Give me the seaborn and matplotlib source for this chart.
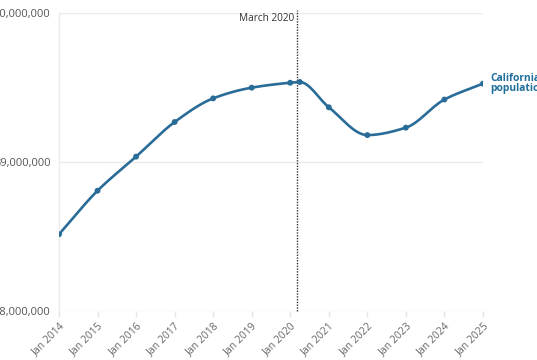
import numpy as np
import pandas as pd
import matplotlib
matplotlib.use("Agg")
import matplotlib.pyplot as plt
import matplotlib.dates as mdates
import seaborn as sns

# Data (population estimates)
dates = ["2014-01-01", "2015-01-01", "2016-01-01", "2017-01-01", "2018-01-01",
         "2019-01-01", "2020-01-01", "2020-04-01", "2021-01-01", "2022-01-01",
         "2023-01-01", "2024-01-01", "2025-01-01"]
population = [38514000, 38807000, 39036000, 39269000, 39428000,
              39500000, 39533000, 39538000, 39368000, 39181000,
              39231000, 39420000, 39527000]
tick_years = list(range(2014, 2026))
tick_labels = ["Jan %d" % y for y in tick_years]
event_date = "2020-03-01"
event_label = "March 2020"
series_label = "California\npopulation"

LINE = "#2a6c98"

df = pd.DataFrame({"date": pd.to_datetime(dates), "pop": population})


def monotone_curve(x, y, n=30):
    # monotone cubic (Fritsch-Carlson), just for drawing a smooth line
    x = np.asarray(x, float)
    y = np.asarray(y, float)
    h = np.diff(x)
    s = np.diff(y) / h
    m = np.zeros_like(y)
    m[0], m[-1] = s[0], s[-1]
    for i in range(1, len(y) - 1):
        if s[i - 1] * s[i] <= 0:
            m[i] = 0
        else:
            m[i] = (h[i - 1] + h[i]) * 3 / ((2 * h[i] + h[i - 1]) / s[i - 1] + (h[i] + 2 * h[i - 1]) / s[i])
    xs, ys = [], []
    for i in range(len(h)):
        t = np.linspace(0, 1, n)
        h00 = 2 * t**3 - 3 * t**2 + 1
        h10 = t**3 - 2 * t**2 + t
        h01 = -2 * t**3 + 3 * t**2
        h11 = t**3 - t**2
        xs.append(x[i] + t * h[i])
        ys.append(h00 * y[i] + h10 * h[i] * m[i] + h01 * y[i + 1] + h11 * h[i] * m[i + 1])
    return np.concatenate(xs), np.concatenate(ys)


xnum = mdates.date2num(df["date"])
cx, cy = monotone_curve(xnum, df["pop"])
curve = pd.DataFrame({"date": mdates.num2date(cx), "pop": cy})
curve["date"] = pd.to_datetime(curve["date"]).dt.tz_localize(None)

sns.set_theme(style="white")
plt.rcParams["font.family"] = ["Open Sans", "DejaVu Sans"]

fig = plt.figure(figsize=(5.37, 3.6), dpi=100)
ax = fig.add_axes([0.1099, 0.137, 0.7895, 0.826])

sns.lineplot(data=curve, x="date", y="pop", color=LINE, linewidth=1.9, ax=ax, sort=False)
sns.scatterplot(data=df, x="date", y="pop", color=LINE, s=18, edgecolor="none", ax=ax, zorder=3)

ax.set_xlim(pd.Timestamp("2014-01-01"), pd.Timestamp("2025-01-01"))
ax.set_ylim(38000000, 40000000)
ax.set_yticks([38000000, 39000000, 40000000])
ax.set_yticklabels(["{:,}".format(v) for v in [38000000, 39000000, 40000000]])
ax.set_xticks(pd.to_datetime(["%d-01-01" % y for y in tick_years]))
ax.set_xticklabels(tick_labels, rotation=45, ha="right", rotation_mode="anchor")
ax.set_xlabel("")
ax.set_ylabel("")

ax.grid(axis="y", color="#ebebeb", linewidth=1)
ax.grid(axis="x", visible=False)
for side in ["top", "right", "bottom"]:
    ax.spines[side].set_visible(False)
ax.spines["left"].set_color("#ebebeb")
ax.spines["left"].set_linewidth(1)
ax.tick_params(axis="x", colors="#666666", labelsize=7.5, length=4, width=1, pad=3)
ax.tick_params(axis="x", color="#e6e6e6")
ax.tick_params(axis="y", colors="#555555", labelsize=8, length=0, pad=6)
ax.tick_params(axis="x", which="both", bottom=True)

# event marker
ev = pd.Timestamp(event_date)
ax.axvline(ev, ymin=0, ymax=1.01, color="#333333", linestyle=(0, (1, 1)), linewidth=1, clip_on=False)
ax.text(ev - pd.Timedelta(days=20), 39966000, event_label, ha="right", va="center",
        fontsize=7.2, color="#333333")

# series label at the end of the line
ax.annotate(series_label, xy=(df["date"].iloc[-1], df["pop"].iloc[-1]), xytext=(5, 0),
            textcoords="offset points", ha="left", va="center", fontsize=7.4,
            fontweight="bold", color="#1f6e9c", linespacing=0.85, annotation_clip=False)

fig.savefig("out.png", dpi=100)
